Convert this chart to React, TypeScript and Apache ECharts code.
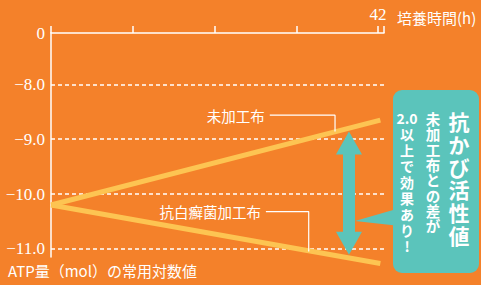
import React, { useEffect, useRef } from "react";
import * as echarts from "echarts";

const BG = "#F4812A";
const TEAL = "#5BC4BB";
const YELLOW = "#FDC452";
const WHITE = "#FFFFFF";

const xMax = 42.77;
const yMin = -11.15;
const yMax = -7.06; // shown as "0" (broken axis)
const yTickValues = [-11, -10, -9, -8];

const untreatedName = "未加工布";
const untreated = [[0, -10.2], [42.3, -8.65]];
const treatedName = "抗白癬菌加工布";
const treated = [[0, -10.2], [42.3, -11.27]];

const untreatedLeader = [[28.1, -8.56], [36.48, -8.56], [36.48, -8.86]];
const treatedLeader = [[27.6, -10.32], [33.1, -10.32], [33.1, -11.05]];

const arrowX = 38.27;
const arrowTop = -9.07;
const arrowBottom = -10.9;

const xAxisName = "培養時間(h)";
const yAxisName = "ATP量（mol）の常用対数値";
const calloutTitle = "抗かび活性値";
const calloutLine2 = "未加工布との差が";
const calloutLine3 = ["2.0", "以", "上", "で", "効", "果", "あ", "り", "!"];

const CJK = "Noto Sans CJK JP";
const SERIF = "'Liberation Serif', serif";

export default function App() {
  const ref = useRef<HTMLDivElement>(null);
  useEffect(() => {
    if (!ref.current) return;
    const chart = echarts.init(ref.current, undefined, { renderer: "svg" });
    const leaderSeries = (name: string, pts: number[][]) => ({
      type: "line",
      name,
      silent: true,
      clip: false,
      symbol: "circle",
      symbolSize: 0,
      showSymbol: true,
      lineStyle: { color: WHITE, width: 1.2 },
      z: 3,
      data: pts.map((p, i) =>
        i === 0
          ? {
              value: p,
              label: {
                show: true,
                position: "left",
                distance: 5,
                formatter: name,
                color: WHITE,
                fontSize: 14.5,
                fontFamily: CJK,
              },
            }
          : { value: p }
      ),
    });
    chart.setOption({
      animation: false,
      backgroundColor: BG,
      grid: { left: 51, right: 97, top: 33, bottom: 28 },
      xAxis: {
        type: "value",
        position: "top",
        min: 0,
        max: xMax,
        interval: 10.5,
        name: xAxisName,
        nameLocation: "end",
        nameGap: 13,
        nameTextStyle: {
          color: WHITE,
          fontSize: 15,
          fontFamily: CJK,
          verticalAlign: "bottom",
          padding: [0, 0, 8, 0],
        },
        axisLine: { lineStyle: { color: WHITE, width: 1.5 } },
        axisTick: { show: true, length: 7, lineStyle: { color: WHITE, width: 1.5 } },
        axisLabel: {
          color: WHITE,
          fontSize: 17,
          fontFamily: SERIF,
          margin: 10,
          formatter: (v: number) => (v === 42 ? "42" : ""),
        },
        splitLine: { show: false },
      },
      yAxis: {
        type: "value",
        min: yMin,
        max: yMax,
        axisLine: { show: true, lineStyle: { color: WHITE, width: 1.5 } },
        axisTick: { show: false },
        axisLabel: {
          color: WHITE,
          fontSize: 17,
          fontFamily: SERIF,
          margin: 6,
          customValues: [...yTickValues, yMax],
          formatter: (v: number) =>
            v > -7.5 ? "0" : "\u2212" + Math.abs(v).toFixed(1),
        },
        splitLine: { show: false },
      },
      series: [
        {
          type: "line",
          name: untreatedName,
          silent: true,
          clip: false,
          symbol: "none",
          lineStyle: { color: YELLOW, width: 5 },
          z: 2,
          data: untreated,
          markLine: {
            silent: true,
            symbol: ["none", "none"],
            label: { show: false },
            lineStyle: { color: WHITE, width: 1.5, type: [4, 3] },
            z: 1,
            data: yTickValues.map((v) => ({ yAxis: v })),
          },
        },
        {
          type: "line",
          name: treatedName,
          silent: true,
          clip: false,
          symbol: "none",
          lineStyle: { color: YELLOW, width: 5 },
          z: 2,
          data: treated,
          markLine: {
            silent: true,
            symbol: ["triangle", "triangle"],
            symbolSize: [26, 23],
            label: { show: false },
            lineStyle: { color: TEAL, width: 12, type: "solid", opacity: 1 },
            itemStyle: { color: TEAL },
            z: 4,
            data: [[{ coord: [arrowX, arrowTop] }, { coord: [arrowX, arrowBottom] }]],
          },
        },
        leaderSeries(untreatedName, untreatedLeader),
        leaderSeries(treatedName, treatedLeader),
      ],
      graphic: [
        {
          type: "text",
          left: 8,
          top: 263,
          style: { text: yAxisName, fill: WHITE, font: `15px '${CJK}'` },
        },
        {
          type: "polygon",
          shape: { points: [[400, 208], [355, 221], [400, 226]] },
          style: { fill: TEAL },
          z: 10,
        },
        {
          type: "rect",
          shape: { x: 393, y: 90, width: 86, height: 183, r: 9 },
          style: { fill: TEAL },
          z: 10,
        },
        {
          type: "text",
          x: 459,
          y: 110,
          z: 11,
          style: {
            text: calloutTitle.split("").join("\n"),
            fill: WHITE,
            font: `bold 21px '${CJK}'`,
            lineHeight: 22.7,
            align: "center",
            verticalAlign: "top",
          },
        },
        {
          type: "text",
          x: 433,
          y: 111,
          z: 11,
          style: {
            text: calloutLine2.split("").join("\n"),
            fill: WHITE,
            font: `bold 14.5px '${CJK}'`,
            lineHeight: 15.3,
            align: "center",
            verticalAlign: "top",
          },
        },
        {
          type: "text",
          x: 407,
          y: 110,
          z: 11,
          style: {
            text: calloutLine3.join("\n"),
            fill: WHITE,
            font: `bold 14px '${CJK}'`,
            lineHeight: 16,
            align: "center",
            verticalAlign: "top",
          },
        },
      ],
    });
    return () => chart.dispose();
  }, []);
  return (
    <div
      ref={ref}
      style={{ position: "fixed", left: 0, top: 0, width: 481, height: 285 }}
    />
  );
}
